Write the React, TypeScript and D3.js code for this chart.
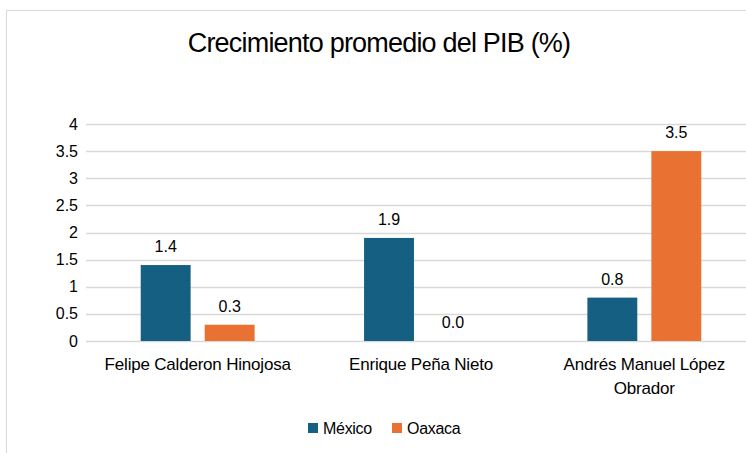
import * as d3 from 'd3';

const categories = [
  ['Felipe Calderon Hinojosa'],
  ['Enrique Peña Nieto'],
  ['Andrés Manuel López', 'Obrador'],
];
const seriesNames = ['México', 'Oaxaca'];
const mexico = [1.4, 1.9, 0.8];
const oaxaca = [0.3, 0.0, 3.5];
const yTicks = [0, 0.5, 1, 1.5, 2, 2.5, 3, 3.5, 4];
const colours = ['#156082', '#E97132'];

const W = 746;
const H = 453;
const margin = { left: 86, right: -10, top: 124, bottom: 112 };
const font = '"Liberation Sans", Arial, sans-serif';

export default function App() {
  const values = [mexico, oaxaca];
  const x = d3
    .scaleBand<number>()
    .domain(d3.range(categories.length))
    .range([margin.left, W - margin.right])
    .paddingInner(0.49)
    .paddingOuter(0.245);
  const xs = d3
    .scaleBand<number>()
    .domain(d3.range(seriesNames.length))
    .range([0, x.bandwidth()])
    .paddingInner(0.22);
  const y = d3.scaleLinear().domain([0, 4]).range([H - margin.bottom, margin.top]);

  return (
    <svg
      width={W}
      height={H}
      style={{ position: 'absolute', left: 0, top: 0, background: '#fff' }}
      fontFamily={font}
    >
      <rect x={6.5} y={10.5} width={W + 20} height={H + 20} fill="#fff" stroke="#d9d9d9" />
      <text x={379} y={52} textAnchor="middle" fontSize={27} fill="#000" letterSpacing={-0.8}>
        Crecimiento promedio del PIB (%)
      </text>

      {yTicks.map((t) => (
        <g key={t}>
          <line
            x1={margin.left}
            x2={W - margin.right}
            y1={Math.round(y(t)) + 0.5}
            y2={Math.round(y(t)) + 0.5}
            stroke="#d9d9d9"
            strokeWidth={1.3}
          />
          <text x={78} y={y(t)} dy="0.35em" textAnchor="end" fontSize={16} fill="#000">
            {t}
          </text>
        </g>
      ))}

      {values.map((vals, s) =>
        vals.map((v, i) => {
          const bx = (x(i) ?? 0) + (xs(s) ?? 0);
          return (
            <g key={`${s}-${i}`}>
              <rect
                x={bx}
                y={y(v)}
                width={xs.bandwidth()}
                height={y(0) - y(v)}
                fill={colours[s]}
              />
              <text
                x={bx + xs.bandwidth() / 2}
                y={y(v) - 13}
                textAnchor="middle"
                fontSize={16}
                fill="#000"
              >
                {v.toFixed(1)}
              </text>
            </g>
          );
        })
      )}

      {categories.map((lines, i) => (
        <text
          key={i}
          x={(x(i) ?? 0) + x.bandwidth() / 2}
          y={370}
          textAnchor="middle"
          fontSize={17}
          fill="#000"
          letterSpacing={-0.2}
        >
          {lines.map((l, j) => (
            <tspan key={j} x={(x(i) ?? 0) + x.bandwidth() / 2} dy={j === 0 ? 0 : 24}>
              {l}
            </tspan>
          ))}
        </text>
      ))}

      {seriesNames.map((name, s) => {
        const lx = s === 0 ? 308 : 392;
        return (
          <g key={name}>
            <rect x={lx} y={423} width={10} height={10} fill={colours[s]} />
            <text x={lx + 15} y={428} dy="0.35em" fontSize={16} fill="#000" letterSpacing={-0.3}>
              {name}
            </text>
          </g>
        );
      })}
    </svg>
  );
}
